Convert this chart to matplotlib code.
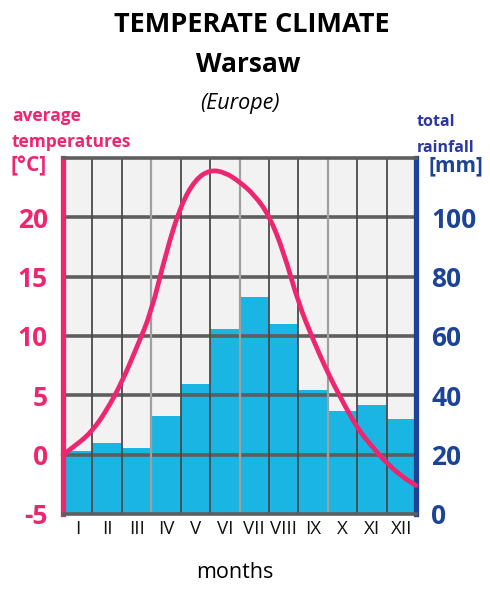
"""
Climate diagram for Warsaw: monthly rainfall bars and temperature curve.
"""
import numpy as np
import matplotlib.pyplot as plt
from matplotlib.path import Path
from matplotlib.patches import PathPatch

MONTHS = ["I", "II", "III", "IV", "V", "VI", "VII", "VIII", "IX", "X", "XI", "XII"]
# total rainfall per month [mm]
RAINFALL = [21.4, 24.0, 22.3, 33.0, 43.9, 62.5, 73.3, 64.0, 41.7, 34.6, 36.6, 32.0]
# temperature curve read every half month, from the start of Jan to the end of Dec [°C]
TEMP_CURVE = [0.0, 0.9, 2.0, 3.8, 6.1, 9.0, 12.0, 17.0, 21.0, 23.2, 24.0, 23.8, 23.0,
              21.9, 20.2, 17.1, 12.8, 9.7, 6.9, 4.5, 2.25, 0.7, -0.7, -1.8, -2.6]
TEMP_TICKS = [-5, 0, 5, 10, 15, 20]
RAIN_TICKS = [0, 20, 40, 60, 80, 100]

PINK = "#EE2670"
BLUE = "#1C4396"
BAR = "#1BB5E4"
GRID = "#5E5E5E"

plt.rcParams["font.family"] = ["Open Sans", "DejaVu Sans"]

fig = plt.figure(figsize=(4.9, 6.0), dpi=100)
ax = fig.add_axes([63 / 490, 86 / 600, 353 / 490, 356 / 600])
ax.set_facecolor("#F2F2F2")
tax = ax.twinx()

# rainfall bars on the host axis
n = len(MONTHS)
ax.bar(np.arange(n), RAINFALL, width=1.0, align="edge", color=BAR, zorder=2)
ax.set_xlim(0, n)
ax.set_ylim(0, 120)

# grid drawn over the bars
for v in range(20, 120, 20):
    ax.axhline(v, color=GRID, lw=2.6, zorder=3)
for k in range(1, n):
    light = k % 3 == 0
    ax.axvline(k, color="#A0A0A0" if light else "#4A4A4A", lw=1.6 if light else 1.3, zorder=3)

ax.set_xticks(np.arange(n) + 0.5)
ax.set_xticklabels(MONTHS, fontsize=13.5, color="#111111")
ax.tick_params(axis="x", length=0, pad=4)
ax.set_yticks(RAIN_TICKS)
ax.set_yticklabels([str(v) for v in RAIN_TICKS], fontsize=19, fontweight="bold", color=BLUE)
ax.yaxis.tick_right()
ax.tick_params(axis="y", length=0, pad=11)

# temperature axis on the left
tax.set_ylim(-5, 25)
tax.set_yticks(TEMP_TICKS)
tax.set_yticklabels([str(v) for v in TEMP_TICKS], fontsize=19, fontweight="bold", color=PINK)
tax.yaxis.tick_left()
tax.tick_params(axis="y", length=0, pad=11)

# smooth temperature curve: quadratic segments through the read points
t = np.arange(len(TEMP_CURVE)) * 0.5
pts = np.column_stack([t, TEMP_CURVE])
verts = [pts[0]]
codes = [Path.MOVETO]
for i in range(1, len(pts) - 1):
    verts += [pts[i], (pts[i] + pts[i + 1]) / 2]
    codes += [Path.CURVE3, Path.CURVE3]
verts.append(pts[-1])
codes.append(Path.LINETO)
tax.add_patch(PathPatch(Path(verts, codes), facecolor="none", edgecolor=PINK, lw=3.4,
                        capstyle="round", joinstyle="round", zorder=5, clip_on=False))

for a in (ax, tax):
    for s in a.spines.values():
        s.set_visible(False)
tax.spines["left"].set_visible(True)
tax.spines["left"].set_color(PINK)
tax.spines["left"].set_linewidth(3.8)
tax.spines["right"].set_visible(True)
tax.spines["right"].set_color(BLUE)
tax.spines["right"].set_linewidth(3.8)
tax.spines["top"].set_visible(True)
tax.spines["top"].set_color(GRID)
tax.spines["top"].set_linewidth(2.6)
tax.spines["bottom"].set_visible(True)
tax.spines["bottom"].set_color(GRID)
tax.spines["bottom"].set_linewidth(2.6)

# titles and labels
fig.text(0.514, 1 - 25 / 600, "TEMPERATE CLIMATE", ha="center", va="center",
         fontsize=19.5, fontweight="bold")
fig.text(0.506, 1 - 64 / 600, "Warsaw", ha="center", va="center",
         fontsize=19, fontweight="bold")
fig.text(0.49, 1 - 103 / 600, "(Europe)", ha="center", va="center",
         fontsize=15.5, style="italic")
fig.text(0.48, 1 - 572 / 600, "months", ha="center", va="center", fontsize=15.5)

fig.text(12 / 490, 1 - 121 / 600, "average", ha="left", va="baseline",
         fontsize=12.5, fontweight="bold", color=PINK)
fig.text(12 / 490, 1 - 147 / 600, "temperatures", ha="left", va="baseline",
         fontsize=12.5, fontweight="bold", color=PINK)
fig.text(10 / 490, 1 - 166 / 600, "[°C]", ha="left", va="center",
         fontsize=15, fontweight="bold", color=PINK)

fig.text(417 / 490, 1 - 126 / 600, "total", ha="left", va="baseline",
         fontsize=11.5, fontweight="bold", color="#2A38A0")
fig.text(417 / 490, 1 - 152 / 600, "rainfall", ha="left", va="baseline",
         fontsize=11.5, fontweight="bold", color="#2A38A0")
fig.text(428 / 490, 1 - 166 / 600, "[mm]", ha="left", va="center",
         fontsize=15, fontweight="bold", color=BLUE)

fig.savefig("out.png", dpi=100, facecolor="white")
